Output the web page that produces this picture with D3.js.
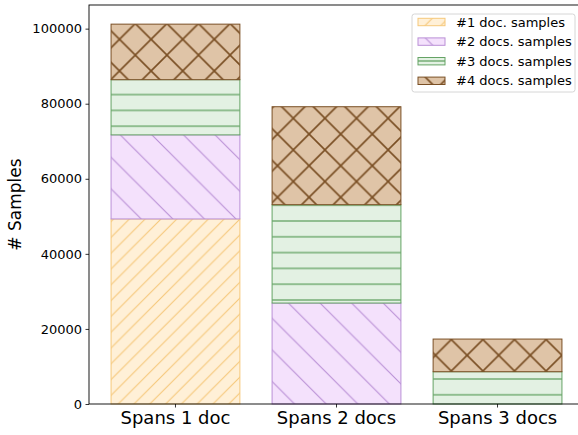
<!DOCTYPE html>
<html>
<head>
<meta charset="utf-8">
<script src="https://cdn.jsdelivr.net/npm/d3@7"></script>
<style>
  body { margin: 0; background: #fff; }
  text { font-family: "DejaVu Sans", sans-serif; fill: #000; }
</style>
</head>
<body>
<script>
// Data.
var categories = ["Spans 1 doc", "Spans 2 docs", "Spans 3 docs"];
var seriesNames = ["#1 doc. samples", "#2 docs. samples", "#3 docs. samples", "#4 docs. samples"];
var docs1 = [49300, 0, 0];
var docs2 = [22400, 26900, 0];
var docs3 = [14700, 26200, 8600];
var docs4 = [14800, 26100, 8700];
var yTicks = [0, 20000, 40000, 60000, 80000, 100000];

// Styles for each series.
var fills = ["#fff0d7", "#f4e1fc", "#e3f1e3", "#dfc4a7"];
var edges = ["#f6c87a", "#b98fd6", "#65a365", "#7a4f24"];
var hatches = ["fwd", "back", "horiz", "cross"];
var hatchWidths = [1.1, 1.1, 1.3, 1.6];

var W = 578, H = 435;
var plot = {left: 89, right: 584, top: 5, bottom: 404};

var svg = d3.select("body").append("svg")
        .attr("width", W)
        .attr("height", H);

// Hatch patterns, all sharing one origin like matplotlib does.
var defs = svg.append("defs");
var P = 31.6;
hatches.forEach(function(h, i) {
    var size = (h === "fwd" || h === "horiz") ? P/2 : P;
    var pat = defs.append("pattern")
            .attr("id", "hatch" + i)
            .attr("patternUnits", "userSpaceOnUse")
            .attr("x", 8.9)
            .attr("y", 23.5)
            .attr("width", size)
            .attr("height", size);
    pat.append("rect").attr("width", size).attr("height", size).attr("fill", fills[i]);
    var g = pat.append("g").attr("stroke", edges[i]).attr("stroke-width", hatchWidths[i]).attr("fill", "none");
    var s = size;
    if (h === "fwd" || h === "cross") {
        g.append("path").attr("d", "M0," + s + "L" + s + ",0M-2,2L2,-2M" + (s-2) + "," + (s+2) + "L" + (s+2) + "," + (s-2));
    }
    if (h === "back" || h === "cross") {
        g.append("path").attr("d", "M0,0L" + s + "," + s + "M-2," + (s-2) + "L2," + (s+2) + "M" + (s-2) + ",-2L" + (s+2) + ",2");
    }
    if (h === "horiz") {
        g.append("path").attr("d", "M0," + (s/2) + "L" + s + "," + (s/2));
    }
});

var x = d3.scaleBand()
        .domain(categories)
        .range([plot.left, plot.right])
        .paddingInner(0.2)
        .paddingOuter(0.137);
var y = d3.scaleLinear()
        .domain([0, 106300])
        .range([plot.bottom, plot.top]);

var table = categories.map(function(c, i) {
    return {cat: c, s0: docs1[i], s1: docs2[i], s2: docs3[i], s3: docs4[i]};
});
var stacked = d3.stack().keys(["s0", "s1", "s2", "s3"])(table);

var layers = svg.append("g").selectAll("g")
        .data(stacked)
        .enter().append("g");
layers.selectAll("rect")
        .data(function(d, i) { return d.map(function(v) { return {v: v, i: i}; }); })
        .enter().append("rect")
        .filter(function(d) { return d.v[1] - d.v[0] > 0; })
        .attr("x", function(d) { return x(d.v.data.cat); })
        .attr("y", function(d) { return y(d.v[1]); })
        .attr("width", x.bandwidth())
        .attr("height", function(d) { return y(d.v[0]) - y(d.v[1]); })
        .attr("fill", function(d) { return "url(#hatch" + d.i + ")"; })
        .attr("stroke", function(d) { return edges[d.i]; })
        .attr("stroke-width", 1);

// Axes.
var yAxis = svg.append("g")
        .attr("transform", "translate(" + plot.left + ",0)")
        .call(d3.axisLeft(y).tickValues(yTicks).tickSize(3.5).tickPadding(3.5).tickFormat(d3.format("d")));
yAxis.select(".domain").remove();
yAxis.selectAll("text").style("font-size", "13px").attr("font-family", "DejaVu Sans");
yAxis.selectAll("line").attr("stroke", "#000").attr("stroke-width", 0.8);

var xAxis = svg.append("g")
        .attr("transform", "translate(0," + plot.bottom + ")")
        .call(d3.axisBottom(x).tickSize(3.5).tickPadding(4));
xAxis.select(".domain").remove();
xAxis.selectAll("text").style("font-size", "18px").attr("font-family", "DejaVu Sans");
xAxis.selectAll("line").attr("stroke", "#000").attr("stroke-width", 0.8);

// Frame.
svg.append("rect")
        .attr("x", plot.left)
        .attr("y", plot.top)
        .attr("width", plot.right - plot.left)
        .attr("height", plot.bottom - plot.top)
        .attr("fill", "none")
        .attr("stroke", "#000")
        .attr("stroke-width", 0.9);

// Y label.
svg.append("text")
        .attr("transform", "translate(21," + ((plot.top + plot.bottom) / 2) + ") rotate(-90)")
        .attr("text-anchor", "middle")
        .style("font-size", "17px")
        .text("# Samples");

// Legend.
var leg = svg.append("g").attr("transform", "translate(412,14)");
leg.append("rect")
        .attr("width", 163)
        .attr("height", 78)
        .attr("rx", 2.5)
        .attr("fill", "#fff")
        .attr("fill-opacity", 0.8)
        .attr("stroke", "#d6d6d6")
        .attr("stroke-width", 1);
var items = leg.selectAll("g.item")
        .data(seriesNames)
        .enter().append("g")
        .attr("class", "item")
        .attr("transform", function(d, i) { return "translate(0," + (8 + i * 19.6) + ")"; });
items.append("rect")
        .attr("x", 6)
        .attr("y", -3.7)
        .attr("width", 27)
        .attr("height", 7.4)
        .attr("fill", function(d, i) { return "url(#hatch" + i + ")"; })
        .attr("stroke", function(d, i) { return edges[i]; })
        .attr("stroke-width", 1);
items.append("text")
        .attr("x", 44)
        .attr("dy", "0.36em")
        .style("font-size", "13px")
        .text(function(d) { return d; });
</script>
</body>
</html>
